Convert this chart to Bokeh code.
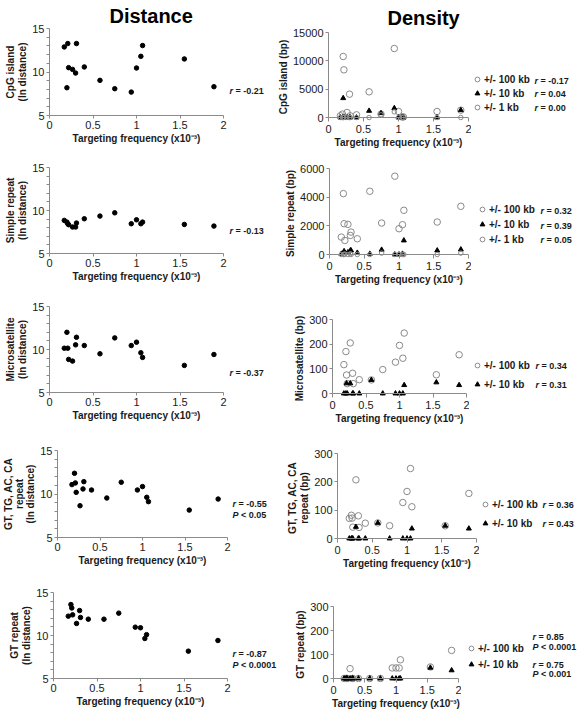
from bokeh.plotting import figure
from bokeh.layouts import row, column
from bokeh.models import Range1d, FixedTicker, Label, Legend, LegendItem, Span
from bokeh.embed import file_html
from bokeh.resources import INLINE

# ---------------- data ----------------
freq = [0.17, 0.20, 0.21, 0.22, 0.265, 0.30, 0.31, 0.40, 0.58, 0.75, 0.94, 1.00, 1.05, 1.07, 1.55, 1.89]
x_ticks = [0, 0.5, 1, 1.5, 2]

cpg_dist = [12.88, 8.19, 13.27, 10.5, 10.3, 9.88, 13.27, 10.58, 9.04, 8.08, 7.69, 10.46, 11.8, 13.04, 11.5, 8.31]
simple_dist = [8.85, 8.65, 8.46, 8.35, 8.08, 8.08, 8.54, 9.04, 9.35, 9.73, 8.46, 8.92, 8.46, 8.65, 8.38, 8.19]
micro_dist = [10.15, 12.0, 10.15, 8.85, 8.65, 10.54, 11.42, 10.46, 9.5, 11.35, 10.46, 10.85, 9.62, 9.08, 8.15, 9.42]
gttg_dist = [11.08, 12.38, 11.27, 10.19, 8.65, 10.58, 11.42, 10.46, 9.54, 11.35, 10.46, 10.85, 9.62, 9.12, 8.15, 9.42]
gt_dist = [12.25, 13.6, 13.2, 12.4, 11.4, 12.9, 12.1, 11.9, 11.9, 12.6, 10.97, 10.9, 9.65, 10.1, 8.18, 9.42]

cpg_100 = [300, 600, 10765, 8410, 880, 4118, 300, 470, 4530, 590, 12176, 1060, 100, 100, 1060, 1294]
cpg_10 = [0, 0, 3412, 0, 0, 0, 0, 0, 1176, 765, 1647, 0, 0, 0, 0, 1294]
cpg_1 = [0, 0, 0, 0, 0, 0, 0, 0, 0, 470, 1000, 0, 0, 0, 0, 0]

simple_100 = [1214, 4249, 2148, 980, 2101, 1330, 1564, 1097, 4412, 2195, 5463, 1798, 2078, 3082, 2265, 3362]
simple_10 = [50, 100, 230, 100, 150, 280, 280, 120, 50, 330, 0, 0, 50, 980, 280, 350]
simple_1 = [0, 0, 0, 30, 0, 50, 0, 0, 0, 100, 0, 0, 0, 0, 0, 100]

micro_100 = [117, 170, 75, 40, 205, 82, 40, 56, 55, 97, 127, 195, 143, 245, 76, 157]
micro_10 = [0, 0, 41, 0, 41, 0, 0, 0, 55, 0, 0, 0, 0, 34, 45, 34]

gttg_100 = [71, 82, 72, 40, 207, 80, 39, 54, 55, 45, 127, 166, 247, 112, 45, 159]
gttg_10 = [0, 0, 0, 0, 41, 0, 0, 0, 55, 0, 0, 0, 0, 35, 45, 35]

gt_100 = [0, 0, 0, 0, 41, 0, 0, 0, 0, 0, 44, 44, 44, 78, 48, 117]
gt_10 = [0, 0, 0, 0, 0, 0, 0, 0, 0, 0, 0, 0, 0, 0, 45, 34]

dist_ylabels = ["CpG island\n(ln distance)", "Simple repeat\n(ln distance)",
                "Microsatellite\n(ln distance)", "GT, TG, AC, CA\nrepeat\n(ln distance)",
                "GT repeat\n(ln distance)"]
dens_ylabels = ["CpG island (bp)", "Simple repeat (bp)", "Microsatellite (bp)",
                "GT, TG, AC, CA\nrepeat (bp)", "GT repeat (bp)"]
dist_stats = [["r = -0.21"], ["r = -0.13"], ["r = -0.37"],
              ["r = -0.55", "P < 0.05"], ["r = -0.87", "P < 0.0001"]]
dens_stats = [["r = -0.17", "r = 0.04", "r = 0.00"],
              ["r = 0.32", "r = 0.39", "r = 0.05"],
              ["r = 0.34", "r = 0.31"],
              ["r = 0.36", "r = 0.43"],
              ["r = 0.85", "P < 0.0001", "r = 0.75", "P < 0.001"]]
dens_series = [
    [("+/- 100 kb", cpg_100), ("+/- 10 kb", cpg_10), ("+/- 1 kb", cpg_1)],
    [("+/- 100 kb", simple_100), ("+/- 10 kb", simple_10), ("+/- 1 kb", simple_1)],
    [("+/- 100 kb", micro_100), ("+/- 10 kb", micro_10)],
    [("+/- 100 kb", gttg_100), ("+/- 10 kb", gttg_10)],
    [("+/- 100 kb", gt_100), ("+/- 10 kb", gt_10)],
]
dens_ymax = [15000, 6000, 300, 300, 300]
dens_yticks = [[0, 5000, 10000, 15000], [0, 2000, 4000, 6000],
               [0, 100, 200, 300], [0, 100, 200, 300], [0, 100, 200, 300]]
dist_values = [cpg_dist, simple_dist, micro_dist, gttg_dist, gt_dist]
titles = ["Distance", "Density"]

# ---------------- layout geometry (pixels; page origin at top-left) ----------------
FONT = "Liberation Sans"
GRAY = "#8a8a8a"
TXT = "#1a1a1a"
X_TITLE = "Targeting frequency (x10\u207b\u00b3)"
TOTAL_W = 578
PAD = 4
NAN = float("nan")
NOFLEX = {"flex": "0 0 auto", "margin": "0", "padding": "0"}

ROW_H = [154, 142, 144, 143, 129]
SPLIT = [268, 268, 268, 277, 277]          # x where the density figure starts
# distance: (top, bottom, left, frame width, right)
L_GEOM = [(0, 39, 49, 174, 4), (13, 43, 49, 174, 4), (10, 48, 49, 174, 4),
          (10, 46, 53, 174, 4), (9, 34, 53, 174, 4)]
# density: (top, bottom, left, frame width, right)
R_GEOM = [(0, 33, 60, 140, 3), (14, 38, 61, 139, 3), (23, 43, 64, 134, 3),
          (13, 41, 60, 139, 3), (23, 30, 56, 125, 3)]
R_H0 = [85, 86, 74, 85, 72]
TITLE_STANDOFF = [4, 8]
TITLE_OFFSET = [60, 59]
DIST_STAT_POS = [[(2, 64)], [(2, 66)], [(2, 68)], [(1, 80), (1, 69)], [(1, 59), (1, 48)]]
DENS_STAT_POS = [[(63, 74), (63, 61), (63, 47)],
                 [(69, 86), (69, 71), (69, 57)],
                 [(66, 75), (66, 56)],
                 [(63, 79), (63, 60)],
                 [(71, 76), (71, 66), (71, 48), (71, 39)]]
LEG_POS = [(0, 40), (5, 50), (2, 49), (0, 53), (4, 41)]
LEG_SPACING = [0, 1, 5, 5, 2]


def style_axes(p, line_height=1.1):
    for ax in p.axis:
        ax.axis_line_color = GRAY
        ax.major_tick_line_color = GRAY
        ax.minor_tick_line_color = GRAY
        ax.major_label_text_font = FONT
        ax.major_label_text_font_size = "11px"
        ax.major_label_text_color = TXT
        ax.axis_label_text_font = FONT
        ax.axis_label_text_font_size = "10px"
        ax.axis_label_text_font_style = "bold"
        ax.axis_label_text_color = TXT
        ax.axis_label_text_line_height = line_height
        ax.major_tick_in = 0
        ax.major_tick_out = 3
        ax.minor_tick_in = 0
        ax.minor_tick_out = 3
        ax.major_label_standoff = 2
        ax.axis_label_standoff = 1
    p.xaxis.ticker = FixedTicker(ticks=x_ticks)
    p.xaxis.minor_tick_line_color = None
    p.xaxis.axis_label = X_TITLE


def base_fig(height, geom, y_range, line_height=1.1):
    top, bottom, left, fw, right = geom
    p = figure(width=left + fw + right, height=height, sizing_mode="fixed",
               x_range=Range1d(0, 2), y_range=y_range,
               min_border_left=left, min_border_right=right,
               min_border_top=top, min_border_bottom=bottom,
               toolbar_location=None, output_backend="svg", styles=NOFLEX)
    p.frame_align = False
    p.outline_line_color = None
    p.xgrid.visible = False
    p.ygrid.visible = False
    p.background_fill_color = "white"
    p.border_fill_color = "white"
    style_axes(p, line_height)
    return p


def anno_fig(width, height):
    a = figure(width=width, height=height, sizing_mode="fixed", x_range=Range1d(0, width),
               y_range=Range1d(0, height), x_axis_type=None, y_axis_type=None,
               min_border=0, min_border_left=0, min_border_right=0,
               min_border_top=0, min_border_bottom=0,
               toolbar_location=None, output_backend="svg", styles=NOFLEX)
    a.frame_align = False
    a.outline_line_color = None
    a.xgrid.visible = False
    a.ygrid.visible = False
    a.border_fill_color = "white"
    a.background_fill_color = "white"
    return a


def add_stat(p, s, x, y):
    letter, rest = s[0], s[2:]
    off = 6.0 if letter == "r" else 8.5
    p.add_layout(Label(x=x, y=y, text=letter, text_font=FONT, text_font_size="9px",
                       text_font_style="bold italic", text_color=TXT, text_baseline="middle"))
    p.add_layout(Label(x=x + off, y=y, text=rest, text_font=FONT, text_font_size="9px",
                       text_font_style="bold", text_color=TXT, text_baseline="middle"))


def set_title(p, text, offset, standoff):
    p.title.text = text
    p.title.text_font = FONT
    p.title.text_font_size = "20px"
    p.title.text_font_style = "bold"
    p.title.text_color = "black"
    p.title.align = "left"
    p.title.offset = offset
    p.title.standoff = standoff


rows = []
for i in range(5):
    h = ROW_H[i]
    # ---- distance panel ----
    g = L_GEOM[i]
    pd_ = base_fig(h, g, Range1d(5, 15), line_height=1.0 if i == 3 else 1.1)
    pd_.yaxis.ticker = FixedTicker(ticks=[5, 10, 15], minor_ticks=[6, 7, 8, 9, 11, 12, 13, 14])
    pd_.yaxis.axis_label = dist_ylabels[i]
    pd_.scatter(freq, dist_values[i], marker="circle", size=4.5, color="black")
    if i == 0:
        set_title(pd_, titles[0], TITLE_OFFSET[0], TITLE_STANDOFF[0])
    wl = g[2] + g[3] + g[4]
    ad = anno_fig(SPLIT[i] - wl, h)
    for s, (sx, sy) in zip(dist_stats[i], DIST_STAT_POS[i]):
        add_stat(ad, s, sx, sy)

    # ---- density panel ----
    g = R_GEOM[i]
    ymax = dens_ymax[i]
    pad = PAD * ymax / R_H0[i]
    pr = base_fig(h, g, Range1d(-pad, ymax))
    pr.xaxis.axis_line_color = None
    pr.xaxis.major_tick_in = PAD
    pr.xaxis.major_tick_out = 0
    pr.xaxis.major_label_standoff = 3
    pr.add_layout(Span(location=0, dimension="width", line_color=GRAY, line_width=1))
    pr.yaxis.bounds = (0, ymax)
    pr.yaxis.ticker = FixedTicker(ticks=dens_yticks[i])
    pr.yaxis.minor_tick_line_color = None
    pr.yaxis.axis_label = dens_ylabels[i]
    if i == 0:
        set_title(pr, titles[1], TITLE_OFFSET[1], TITLE_STANDOFF[1])
    wr = g[2] + g[3] + g[4]
    ar = anno_fig(TOTAL_W - SPLIT[i] - wr, h)
    items = []
    for label, vals in dens_series[i]:
        if "100" in label:
            kw = dict(marker="circle", size=6.5, fill_color=None, line_color="#8a8a8a", line_width=1)
        elif "10 kb" in label:
            kw = dict(marker="triangle", size=5, fill_color="black", line_color="black")
        else:
            kw = dict(marker="circle", size=4.5, fill_color=None, line_color="#8a8a8a", line_width=1)
        pr.scatter(freq, vals, **kw)
        key = ar.scatter([NAN], [NAN], **kw)
        items.append(LegendItem(label=label, renderers=[key]))
    leg = Legend(items=items, location=LEG_POS[i], glyph_width=12, glyph_height=14,
                 label_height=14, label_standoff=1, spacing=LEG_SPACING[i], padding=0,
                 margin=0, border_line_color=None, background_fill_alpha=0,
                 label_text_font=FONT, label_text_font_size="10px",
                 label_text_font_style="bold", label_text_color=TXT)
    ar.add_layout(leg)
    for s, (sx, sy) in zip(dens_stats[i], DENS_STAT_POS[i]):
        add_stat(ar, s, sx, sy)
    rows.append(row(pd_, ad, pr, ar, spacing=0, sizing_mode="fixed"))

layout = column(*rows, spacing=0, sizing_mode="fixed")
open("out.html", "w").write(file_html(layout, INLINE))
